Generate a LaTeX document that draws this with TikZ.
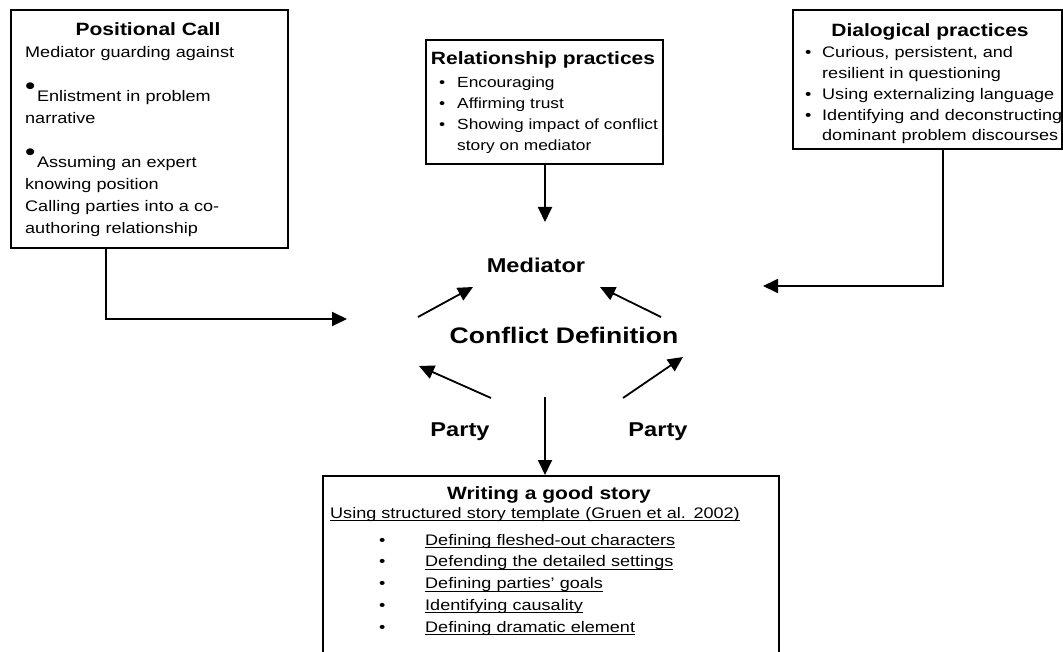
\documentclass[tikz,border=0pt]{standalone}
\usepackage{fontspec}
\setmainfont{Liberation Sans}[FakeStretch=1.18]
\usetikzlibrary{
    positioning,
    arrows.meta,
    calc
}
% raised big dot of the first box
\newcommand{\bigdot}{\smash{\raisebox{7pt}{\fontsize{25}{25}\selectfont\textbullet}}\hspace{1.5pt}}
% bullet item with hanging indent
\newcommand{\bitem}[2]{\hangindent=#1\hangafter=1\noindent\makebox[#1][l]{\textbullet}#2\par}
% underline at a fixed depth
\newlength{\ulwd}
\newcommand{\uln}[1]{\settowidth{\ulwd}{#1}\rlap{\rule[-3pt]{\ulwd}{1.1pt}}#1}
% underlined bullet item of the story box
\newcommand{\sitem}[1]{\par\noindent\hspace*{49pt}\makebox[46pt][l]{\textbullet}\uln{#1}}

\begin{document}
\begin{tikzpicture}[x=1pt, y=-1pt, >={Triangle[length=15pt,width=14pt]},
    frame/.style={draw, line width=1.8pt, inner sep=0pt, anchor=north west},
    boxtext/.style={anchor=base west, inner sep=0pt, text width=#1, align=left,
        font=\fontsize{15.3}{20.7}\selectfont},
    boxhead/.style={anchor=base, inner sep=0pt, font=\bfseries\fontsize{17.8}{20}\selectfont},
    midlabel/.style={anchor=base, inner sep=0pt, font=\bfseries\fontsize{20}{24}\selectfont},
    arr/.style={->, line width=1.8pt}]
    \useasboundingbox (0,0) rectangle (1063,652);
    \clip (0,0) rectangle (1063,652);

    % boxes
    \node[frame, minimum width=277pt, minimum height=238pt] (poscall) at (10,9) {};
    \node[frame, minimum width=237pt, minimum height=124pt] (relprac) at (425,39) {};
    \node[frame, minimum width=269pt, minimum height=139pt] (dialog) at (792,9) {};
    \node[frame, minimum width=456pt, minimum height=200pt] (story) at (322,475) {};

    % Positional Call
    \node[boxhead] (poshead) at (148,36) {Positional Call};
    \node[boxtext=270pt, font=\fontsize{15.3}{22}\selectfont] (postext) at (25,58)
        {Mediator guarding against\\[22pt]
         \bigdot Enlistment in problem\\ narrative\\[22pt]
         \bigdot Assuming an expert\\ knowing position\\
         Calling parties into a co-\\ authoring relationship};

    % Relationship practices
    \node[boxhead] (relhead) at (543,65) {Relationship practices};
    \node[boxtext=300pt, font=\fontsize{14.7}{20.7}\selectfont] (reltext) at (439,88)
        {\bitem{18pt}{Encouraging}
         \bitem{18pt}{Affirming trust}
         \bitem{18pt}{Showing impact of conflict\newline story on mediator}};

    % Dialogical practices
    \node[boxhead] (dialhead) at (930,37) {Dialogical practices};
    \node[boxtext=300pt] (dialtext) at (805,58)
        {\bitem{17pt}{Curious, persistent, and\newline resilient in questioning}
         \bitem{17pt}{Using externalizing language}
         \bitem{17pt}{Identifying and deconstructing\newline dominant problem discourses}};

    % Writing a good story
    \node[boxhead] (storyhead) at (549,499) {Writing a good story};
    \node[boxtext=440pt, font=\fontsize{15.3}{21.8}\selectfont] (storytext) at (330,518)
        {\uln{Using structured story template (Gruen et al. 2002)}\par\vspace{5.2pt}
         \sitem{Defining fleshed-out characters}
         \sitem{Defending the detailed settings}
         \sitem{Defining parties’ goals}
         \sitem{Identifying causality}
         \sitem{Defining dramatic element}};

    % centre
    \node[midlabel] (mediator) at (536,273) {Mediator};
    \node[midlabel, font=\bfseries\fontsize{22.5}{26}\selectfont] (confdef) at (564,343) {Conflict Definition};
    \node[midlabel] (partyl) at (460,436) {Party};
    \node[midlabel] (partyr) at (658,436) {Party};

    % arrow ends
    \coordinate (pcend) at (347,319);
    \coordinate (medtop) at (545,222);
    \coordinate (dcend) at (763,286);
    \coordinate (cdbot) at (545,397);
    \coordinate (ulA) at (418,317);
    \coordinate (ulB) at (473,287);
    \coordinate (urA) at (661,317);
    \coordinate (urB) at (600,287);
    \coordinate (llA) at (491,398);
    \coordinate (llB) at (419,366);
    \coordinate (lrA) at (623,398);
    \coordinate (lrB) at (683,357);

    % connectors
    \draw[arr] (poscall.south west) ++(96,0) |- (pcend);
    \draw[arr] (relprac.south -| medtop) -- (medtop);
    \draw[arr] (dialog.south west) ++(151,0) |- (dcend);
    \draw[arr] (cdbot) -- (cdbot |- story.north);
    \draw[arr] (ulA) -- (ulB);
    \draw[arr] (urA) -- (urB);
    \draw[arr] (llA) -- (llB);
    \draw[arr] (lrA) -- (lrB);
\end{tikzpicture}
\end{document}
